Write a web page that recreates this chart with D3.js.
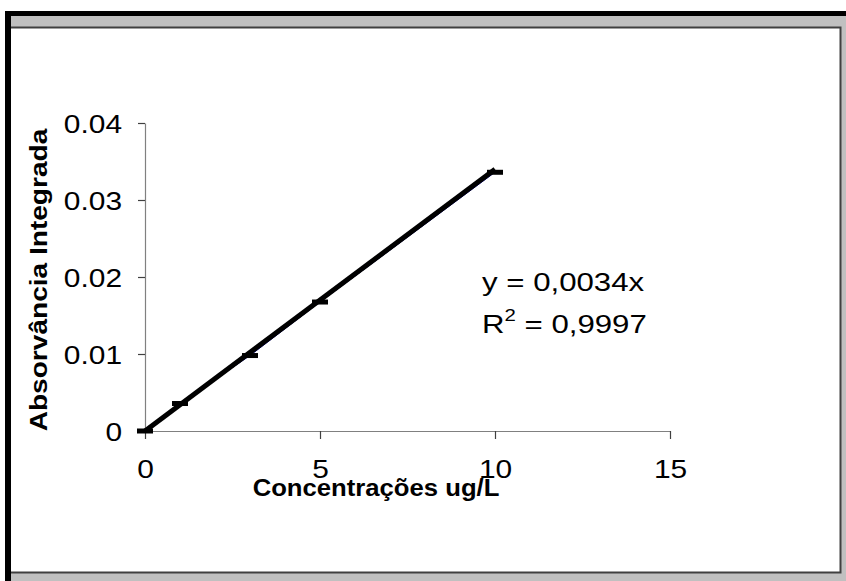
<!DOCTYPE html>
<html><head><meta charset="utf-8">
<script src="https://cdn.jsdelivr.net/npm/d3@7"></script>
<style>html,body{margin:0;padding:0;background:#fff;}svg{display:block;}</style>
</head><body>
<svg id="c" width="846" height="581"></svg>
<script>
const concentrations = [0, 1, 3, 5, 10];
const absorbance = [0, 0.00357, 0.0098, 0.01675, 0.0336];
const slope = 0.0034;
const trendRange = [0, 10];
const xTicks = [0, 5, 10, 15];
const yTicks = [0, 0.01, 0.02, 0.03, 0.04];
const yTickLabels = ["0", "0.01", "0.02", "0.03", "0.04"];
const xTitle = "Concentrações ug/L";
const yTitle = "Absorvância Integrada";
const eqLine1 = "y = 0,0034x";
const eqLine2 = ["R", "2", " = 0,9997"];

const svg = d3.select("#c");
const FONT = "Liberation Sans, Arial, sans-serif";
const SX = 1.15;

// frame
svg.append("rect").attr("x",5).attr("y",11).attr("width",841).attr("height",570).attr("fill","#000");
svg.append("rect").attr("x",11).attr("y",16).attr("width",835).attr("height",565).attr("fill","#c0c0c0");
svg.append("rect").attr("x",11).attr("y",27).attr("width",829).attr("height",545).attr("fill","#fff");
svg.append("path").attr("d","M11,27.5H840.5V572.5H11").attr("fill","none").attr("stroke","#404040").attr("stroke-width",2);

const x = d3.scaleLinear().domain([0,15]).range([145,670]);
const y = d3.scaleLinear().domain([0,0.04]).range([431,123]);

// axes
const gx = svg.append("g").attr("transform","translate(0,431)")
  .call(d3.axisBottom(x).tickValues(xTicks).tickSize(8).tickSizeOuter(0).tickFormat(d3.format("d")));
const gy = svg.append("g").attr("transform","translate(145,0)")
  .call(d3.axisLeft(y).tickValues(yTicks).tickSize(7).tickSizeOuter(0).tickFormat((d,i)=>yTickLabels[i]));
[gx,gy].forEach(g=>{
  g.select(".domain").attr("stroke","#808080").attr("stroke-width",1.2);
  g.selectAll(".tick line").attr("stroke","#404040").attr("stroke-width",1.2);
  g.selectAll("text").attr("font-family",FONT).attr("font-size",26).attr("fill","#000");
});
gx.selectAll(".tick text").attr("y",0).attr("dy",0)
  .attr("transform","translate(0,47) scale("+SX+",1)");
gy.selectAll(".tick text").attr("x",0).attr("dy","0.36em").attr("text-anchor","end")
  .attr("transform","translate(-23,0) scale("+SX+",1)");

// axis titles
svg.append("text").attr("transform","translate(376,496) scale(1.07,1)")
  .attr("text-anchor","middle").attr("font-family",FONT).attr("font-weight","bold")
  .attr("font-size",24).text(xTitle);
svg.append("text").attr("transform","translate(47,280) rotate(-90) scale(1.17,1)")
  .attr("text-anchor","middle").attr("font-family",FONT).attr("font-weight","bold")
  .attr("font-size",24).text(yTitle);

// data line (thin navy)
const pts = concentrations.map((c,i)=>[c,absorbance[i]]);
svg.append("path").datum(pts)
  .attr("d",d3.line().x(d=>x(d[0])).y(d=>y(d[1])))
  .attr("fill","none").attr("stroke","#000080").attr("stroke-width",1);

// trend line
svg.append("line")
  .attr("x1",x(trendRange[0])).attr("y1",y(slope*trendRange[0]))
  .attr("x2",x(trendRange[1])).attr("y2",y(slope*trendRange[1]))
  .attr("stroke","#000").attr("stroke-width",5);

// markers (dash)
svg.selectAll("rect.mk").data(pts).enter().append("rect").attr("class","mk")
  .attr("x",d=>x(d[0])-8).attr("y",d=>y(d[1])-2.5).attr("width",16).attr("height",5).attr("fill","#000");

// equation
svg.append("text").attr("transform","translate(482,291) scale(1.2,1)")
  .attr("font-family",FONT).attr("font-size",26).text(eqLine1);
const t2 = svg.append("text").attr("transform","translate(482,333) scale(1.2,1)")
  .attr("font-family",FONT).attr("font-size",26);
t2.append("tspan").text(eqLine2[0]);
t2.append("tspan").attr("font-size",17).attr("dy",-12).text(eqLine2[1]);
t2.append("tspan").attr("dy",12).text(eqLine2[2]);
</script>
</body></html>
